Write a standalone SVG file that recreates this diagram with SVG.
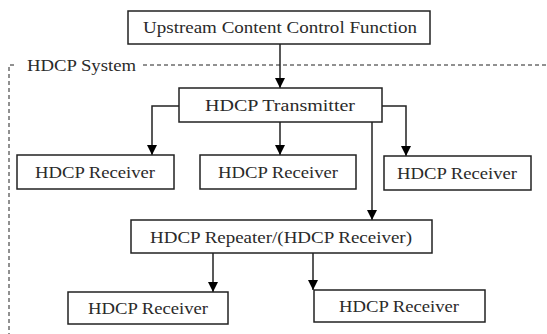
<svg xmlns="http://www.w3.org/2000/svg" width="547" height="334" viewBox="0 0 547 334">
  <defs>
    <marker id="arrow" viewBox="0 0 10 10" refX="10" refY="5" markerWidth="10" markerHeight="10" markerUnits="userSpaceOnUse" orient="auto">
      <path d="M0,0 L10,5 L0,10 z" fill="#000"/>
    </marker>
    <style>
      .box { fill: #fff; stroke: #222; stroke-width: 1.5; }
      .lbl { font-family: "Liberation Serif", "DejaVu Serif", serif; font-size: 16px; fill: #2a2a2a; text-anchor: middle; }
      .sys { font-family: "Liberation Serif", "DejaVu Serif", serif; font-size: 16px; fill: #2a2a2a; }
      .wire { fill: none; stroke: #222; stroke-width: 1.5; }
      .dash { fill: none; stroke: #222; stroke-width: 1; stroke-dasharray: 4 3; }
    </style>
  </defs>
  <rect width="547" height="334" fill="#fff"/>

  <!-- system boundary -->
  <g id="system">
    <path class="dash" d="M143,65 H547 M14,65 H9 V334"/>
    <text class="sys" x="27" y="71" textLength="109" lengthAdjust="spacingAndGlyphs">HDCP System</text>
  </g>

  <g id="connectors">
    <path class="wire" d="M280,44 V88" marker-end="url(#arrow)"/>
    <path class="wire" d="M179,106 H152 V155" marker-end="url(#arrow)"/>
    <path class="wire" d="M280,122 V155" marker-end="url(#arrow)"/>
    <path class="wire" d="M382,106 H406 V156" marker-end="url(#arrow)"/>
    <path class="wire" d="M372,122 V220" marker-end="url(#arrow)"/>
    <path class="wire" d="M213,253 V292" marker-end="url(#arrow)"/>
    <path class="wire" d="M313,253 V290" marker-end="url(#arrow)"/>
  </g>

  <g id="upstream">
    <rect class="box" x="128" y="11" width="302" height="33"/>
    <text class="lbl" x="280" y="33" textLength="274" lengthAdjust="spacingAndGlyphs">Upstream Content Control Function</text>
  </g>
  <g id="transmitter">
    <rect class="box" x="179" y="88" width="203" height="34"/>
    <text class="lbl" x="280" y="111" textLength="150" lengthAdjust="spacingAndGlyphs">HDCP Transmitter</text>
  </g>
  <g id="receiver1">
    <rect class="box" x="17" y="155" width="157" height="34"/>
    <text class="lbl" x="95" y="178" textLength="120" lengthAdjust="spacingAndGlyphs">HDCP Receiver</text>
  </g>
  <g id="receiver2">
    <rect class="box" x="200" y="155" width="156" height="34"/>
    <text class="lbl" x="278" y="178" textLength="120" lengthAdjust="spacingAndGlyphs">HDCP Receiver</text>
  </g>
  <g id="receiver3">
    <rect class="box" x="384" y="156" width="147" height="34"/>
    <text class="lbl" x="457" y="179" textLength="120" lengthAdjust="spacingAndGlyphs">HDCP Receiver</text>
  </g>
  <g id="repeater">
    <rect class="box" x="131" y="220" width="301" height="33"/>
    <text class="lbl" x="281" y="243" textLength="262" lengthAdjust="spacingAndGlyphs">HDCP Repeater/(HDCP Receiver)</text>
  </g>
  <g id="receiver4">
    <rect class="box" x="68" y="292" width="160" height="32"/>
    <text class="lbl" x="148" y="314" textLength="120" lengthAdjust="spacingAndGlyphs">HDCP Receiver</text>
  </g>
  <g id="receiver5">
    <rect class="box" x="314" y="290" width="171" height="32"/>
    <text class="lbl" x="399" y="312" textLength="120" lengthAdjust="spacingAndGlyphs">HDCP Receiver</text>
  </g>
</svg>
